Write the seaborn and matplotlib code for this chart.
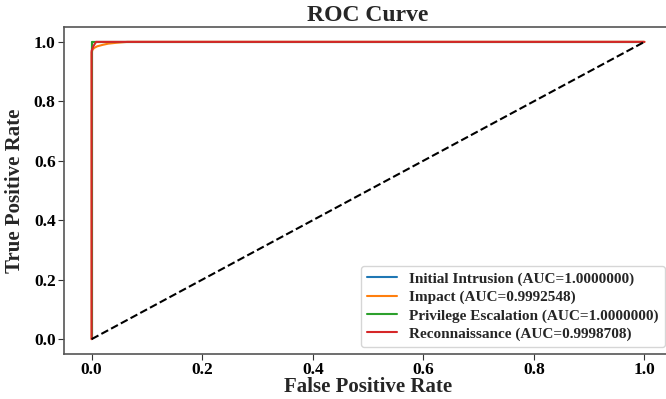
import numpy as np
import pandas as pd
import matplotlib
matplotlib.use("Agg")
import matplotlib.pyplot as plt
import seaborn as sns

classes = ["Initial Intrusion", "Impact", "Privilege Escalation", "Reconnaissance"]
aucs = ["1.0000000", "0.9992548", "1.0000000", "0.9998708"]
fpr_intrusion = [0.0, 0.0, 1.0]
tpr_intrusion = [0.0, 1.0, 1.0]
fpr_impact = [0.0, 0.0, 0.002, 0.005, 0.01, 0.02, 0.03, 0.045, 0.065, 1.0]
tpr_impact = [0.0, 0.965, 0.975, 0.98, 0.985, 0.99, 0.994, 0.997, 1.0, 1.0]
fpr_priv = [0.0, 0.0, 1.0]
tpr_priv = [0.0, 1.0, 1.0]
fpr_recon = [0.0, 0.0, 0.003, 0.008, 1.0]
tpr_recon = [0.0, 0.97, 0.985, 1.0, 1.0]
diag = [0.0, 1.0]
xticks = [0.0, 0.2, 0.4, 0.6, 0.8, 1.0]
yticks = [0.0, 0.2, 0.4, 0.6, 0.8, 1.0]

sns.set_style("ticks")
plt.rcParams["font.family"] = ["Liberation Serif", "DejaVu Serif"]
plt.rcParams["font.weight"] = "bold"

frames = []
for name, auc, fx, ty in zip(classes, aucs,
                             [fpr_intrusion, fpr_impact, fpr_priv, fpr_recon],
                             [tpr_intrusion, tpr_impact, tpr_priv, tpr_recon]):
    label = f"{name} (AUC={auc})"
    frames.append(pd.DataFrame({"fpr": fx, "tpr": ty, "label": label,
                                "order": np.arange(len(fx))}))
df = pd.concat(frames, ignore_index=True)

fig = plt.figure(figsize=(6.66, 3.99), dpi=100)
ax = fig.add_axes([0.0961, 0.1128, 0.913, 0.8195])

palette = ["#1f77b4", "#ff7f0e", "#2ca02c", "#d62728"]
sns.lineplot(data=df, x="fpr", y="tpr", hue="label", palette=palette,
             sort=False, estimator=None, units="label", lw=1.5, ax=ax)
sns.lineplot(x=diag, y=diag, color="black", linestyle="--", lw=1.5, ax=ax,
             sort=False, estimator=None)

ax.set_xlim(-0.05, 1.05)
ax.set_ylim(-0.05, 1.05)
ax.set_xticks(xticks)
ax.set_yticks(yticks)
ax.set_xticklabels([f"{t:.1f}" for t in xticks], fontsize=12.5, fontweight="bold")
ax.set_yticklabels([f"{t:.1f}" for t in yticks], fontsize=12.5, fontweight="bold")
ax.set_xlabel("False Positive Rate", fontsize=15, fontweight="bold", labelpad=-1)
ax.set_ylabel("True Positive Rate", fontsize=15, fontweight="bold", labelpad=6)
ax.set_title("ROC Curve", fontsize=17, fontweight="bold", pad=4)
for s in ax.spines.values():
    s.set_color("#555555")
    s.set_linewidth(1.2)
ax.tick_params(colors="#333333", labelcolor="black", length=4, pad=2)

handles, labels = ax.get_legend_handles_labels()
leg = ax.legend(handles[:4], labels[:4], loc="lower right",
                bbox_to_anchor=(0.9885, 0.021), borderaxespad=0,
                labelspacing=0.3,
                prop={"family": "Liberation Serif", "weight": "bold", "size": 11},
                frameon=True)

fig.savefig("out.png", dpi=100)
